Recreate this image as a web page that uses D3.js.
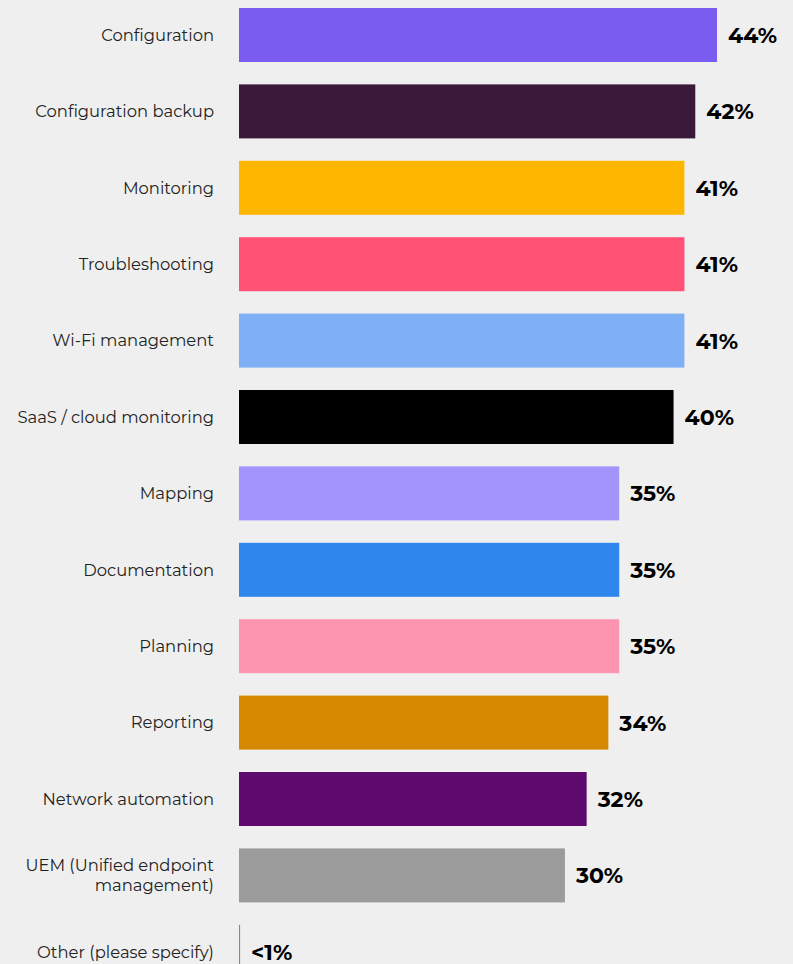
<!DOCTYPE html>
<html>
<head>
<meta charset="utf-8">
<script src="https://cdn.jsdelivr.net/npm/d3@7"></script>
<style>
  html, body { margin: 0; padding: 0; background: #efefef; }
  svg { display: block; }
  .cat { font-family: "Montserrat", "Inter", "Noto Sans", sans-serif; font-size: 16.4px; fill: #222; }
  .val { font-family: "Montserrat", "Inter", "Noto Sans", sans-serif; font-size: 22px; font-weight: 700; fill: #000; }
</style>
</head>
<body>
<svg id="chart" width="793" height="964"></svg>
<script>
// Categories, shares (%), printed labels and bar colours
const categories = [
  "Configuration", "Configuration backup", "Monitoring", "Troubleshooting",
  "Wi-Fi management", "SaaS / cloud monitoring", "Mapping", "Documentation",
  "Planning", "Reporting", "Network automation",
  "UEM (Unified endpoint management)", "Other (please specify)"
];
const values = [44, 42, 41, 41, 41, 40, 35, 35, 35, 34, 32, 30, 0.1];
const valueLabels = ["44%", "42%", "41%", "41%", "41%", "40%", "35%", "35%", "35%", "34%", "32%", "30%", "<1%"];
const colors = [
  "#7b5cf0", "#3a1a3b", "#ffb600", "#ff5274", "#7fb0f5", "#000000",
  "#a194fb", "#2f87ee", "#fe95b0", "#d58900", "#5e096e", "#9b9b9b", "#888888"
];
// Category labels that wrap onto two lines
const labelLines = {
  "UEM (Unified endpoint management)": ["UEM (Unified endpoint", "management)"]
};

const svg = d3.select("#chart");
const x0 = 239;
const x = d3.scaleLinear().domain([0, 44]).range([x0, 717]);
const y = d3.scaleBand()
  .domain(categories)
  .range([8, 8 + 12 * 76.4 + 54])
  .paddingInner(22.4 / 76.4)
  .paddingOuter(0);

const rows = svg.selectAll("g.row")
  .data(categories.map((c, i) => ({ c, v: values[i], lab: valueLabels[i], col: colors[i] })))
  .join("g")
  .attr("class", "row")
  .attr("transform", d => `translate(0,${y(d.c)})`);

rows.append("rect")
  .attr("x", x0)
  .attr("y", 0)
  .attr("width", d => Math.max(1, x(d.v) - x0))
  .attr("height", y.bandwidth())
  .attr("fill", d => d.col);

rows.append("text")
  .attr("class", "val")
  .attr("x", d => x(d.v) + 11)
  .attr("y", y.bandwidth() / 2)
  .attr("dy", "0.36em")
  .text(d => d.lab);

rows.each(function (d) {
  const lines = labelLines[d.c] || [d.c];
  const t = d3.select(this).append("text")
    .attr("class", "cat")
    .attr("text-anchor", "end")
    .attr("x", 214)
    .attr("y", y.bandwidth() / 2);
  lines.forEach((ln, k) => {
    t.append("tspan")
      .attr("x", 214)
      .attr("dy", k === 0 ? `${0.36 - (lines.length - 1) * 0.6}em` : "1.2em")
      .text(ln);
  });
});
</script>
</body>
</html>
